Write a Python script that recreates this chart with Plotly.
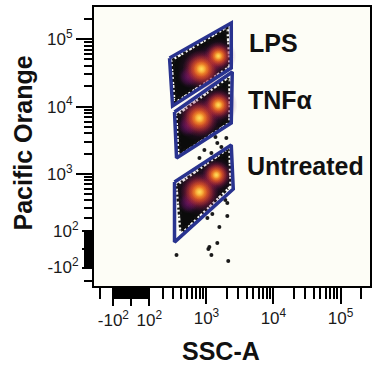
import numpy as np
import plotly.graph_objects as go

C = 76.4  # width parameter of the biexponential-like display


def biex(v):
    return np.arcsinh(np.asarray(v, dtype=float) / (2 * C)) / np.log(10)


# ---------------- data (SSC-A, Pacific Orange) ----------------
population = ["LPS", "TNFα", "Untreated"]

lps_gate_ssc = [263, 2354, 2354, 296]
lps_gate_po = [52500, 173400, 37400, 10210]
tnf_gate_ssc = [319, 2435, 2354, 344]
tnf_gate_po = [8320, 32600, 5710, 1733]
unt_gate_ssc = [319, 2354, 2520, 319]
unt_gate_po = [756, 2700, 592, 39]

lps_cloud_ssc = [296, 1986, 2122, 332]
lps_cloud_po = [47400, 141300, 40000, 12110]
tnf_cloud_ssc = [358, 2122, 2122, 385]
tnf_cloud_po = [7260, 25650, 5910, 1986]
unt_cloud_ssc = [358, 2122, 2197, 414]
unt_cloud_po = [658, 2275, 658, 97]

lps_peak_ssc = [532, 839, 1510]
lps_peak_po = [27480, 36060, 56230]
lps_peak_w = [0.45, 1.0, 0.75]
tnf_peak_ssc = [514, 783, 1510]
tnf_peak_po = [5160, 6770, 10570]
tnf_peak_w = [0.45, 1.0, 0.8]
unt_peak_ssc = [532, 783, 1408]
unt_peak_po = [358, 532, 964]
unt_peak_w = [0.45, 1.0, 0.75]

outlier_ssc = [2055, 2055, 1562, 1455, 1069, 1187, 344, 2122, 1226, 1033, 1918, 1106,
               1455, 1675, 931, 1187, 783, 1986, 1364]
outlier_po = [358, 215, 129, 34, 2.6, -29, -29, -61, 234, 198, 399, 13,
              2891, 2520, 2275, 2055, 1733, 3428, 3545]

decade_vals = [1e3, 1e4, 1e5]
decade_text = ["10<sup>3</sup>", "10<sup>4</sup>", "10<sup>5</sup>"]
linear_vals = [-100, 0, 100]
linear_text = ["-10<sup>2</sup>", "", "10<sup>2</sup>"]
minor_vals = ([-200] + [v for v in range(-90, 100, 10) if v != 0]
              + [m * 10 ** k for k in (2, 3, 4) for m in range(2, 10)] + [2e5])

gates = [(lps_gate_ssc, lps_gate_po), (tnf_gate_ssc, tnf_gate_po), (unt_gate_ssc, unt_gate_po)]
clouds = [(lps_cloud_ssc, lps_cloud_po), (tnf_cloud_ssc, tnf_cloud_po), (unt_cloud_ssc, unt_cloud_po)]
peaks = [(lps_peak_ssc, lps_peak_po, lps_peak_w), (tnf_peak_ssc, tnf_peak_po, tnf_peak_w),
         (unt_peak_ssc, unt_peak_po, unt_peak_w)]

# ---------------- styles ----------------
GATE_COLOR = "#29338f"
FONT = "Liberation Sans, Arial, Helvetica, sans-serif"
layers = [("95,18,95", 48, 0.0), ("95,18,95", 38, 0.0),
          ("215,45,40", 38, 0.5), ("215,45,40", 32, 0.5),
          ("250,125,25", 28, 0.62), ("250,125,25", 22, 0.62),
          ("255,215,60", 16, 0.72), ("255,235,110", 10, 0.72)]
XR = [-0.556, 3.556]
YR = [-0.541, 3.593]


def closed(a):
    return list(a) + [a[0]]


fig = go.Figure()

for sx, sy in clouds:
    fig.add_trace(go.Scatter(x=biex(closed(sx)), y=biex(closed(sy)), mode="lines", fill="toself",
                             fillcolor="#0b0b0b",
                             line=dict(color="#111", width=4.5, dash="3px,2px,2px,3px,1px,2px"),
                             hoverinfo="skip", showlegend=False))

for rgb, base, thr in layers:
    xs, ys, ss = [], [], []
    for px, py, pw in peaks:
        for a, b, w in zip(px, py, pw):
            if w >= thr:
                xs.append(a); ys.append(b); ss.append(base * w)
    fig.add_trace(go.Scatter(x=biex(xs), y=biex(ys), mode="markers", hoverinfo="skip", showlegend=False,
                             marker=dict(size=ss, color=f"rgba({rgb},0)", line=dict(width=0),
                                         gradient=dict(type="radial", color=f"rgba({rgb},1)"))))

fig.add_trace(go.Scatter(x=biex(outlier_ssc), y=biex(outlier_po), mode="markers", hoverinfo="skip",
                         showlegend=False, marker=dict(size=4, color="#1a1a1a", line=dict(width=0))))

for sx, sy in gates:
    fig.add_trace(go.Scatter(x=biex(closed(sx)), y=biex(closed(sy)), mode="lines", xaxis="x2", yaxis="y2",
                             line=dict(color=GATE_COLOR, width=3.5), hoverinfo="skip", showlegend=False))

tickfont = dict(family=FONT, size=17, color="#1a1a1a")
common = dict(showgrid=False, zeroline=False, tickmode="array", ticks="outside", tickcolor="black",
              tickwidth=2, tickfont=tickfont)

fig.update_layout(
    width=373, height=369,
    margin=dict(l=94, r=1, t=7, b=83),
    paper_bgcolor="white", plot_bgcolor="#fdfdf6",
    xaxis=dict(range=XR, tickvals=biex(decade_vals), ticktext=decade_text, ticklen=16,
               showline=True, linecolor="black", linewidth=2, mirror=True,
               minor=dict(tickmode="array", tickvals=biex(minor_vals), ticks="outside", ticklen=11,
                          tickwidth=2, tickcolor="black", showgrid=False), **common),
    yaxis=dict(range=YR, tickvals=biex(decade_vals), ticktext=decade_text, ticklen=16,
               showline=True, linecolor="black", linewidth=2, mirror=True,
               minor=dict(tickmode="array", tickvals=biex(minor_vals), ticks="outside", ticklen=8,
                          tickwidth=2, tickcolor="black", showgrid=False), **common),
    xaxis2=dict(range=XR, overlaying="x", anchor="y2", side="bottom", tickvals=biex(linear_vals),
                ticktext=linear_text, ticklen=19, showline=False, **common),
    yaxis2=dict(range=YR, overlaying="y", anchor="x2", side="left", tickvals=biex(linear_vals),
                ticktext=linear_text, ticklen=11, showline=False, **common),
)

label_font = dict(family=FONT, size=25, color="#111")
label_pos = [(0.554, 0.871), (0.550, 0.667), (0.547, 0.430)]
for name, (ax, ay) in zip(population, label_pos):
    fig.add_annotation(text=f"<b>{name}</b>", x=ax, y=ay, xref="paper", yref="paper",
                       xanchor="left", yanchor="middle", showarrow=False, font=label_font)

fig.add_annotation(text="<b>SSC-A</b>", x=0.460, y=-0.233, xref="paper", yref="paper",
                   xanchor="center", yanchor="middle", showarrow=False, font=label_font)
fig.add_annotation(text="<b>Pacific Orange</b>", x=-0.257, y=0.511, xref="paper", yref="paper",
                   xanchor="center", yanchor="middle", textangle=-90, showarrow=False, font=label_font)

fig.write_html("out.html")
